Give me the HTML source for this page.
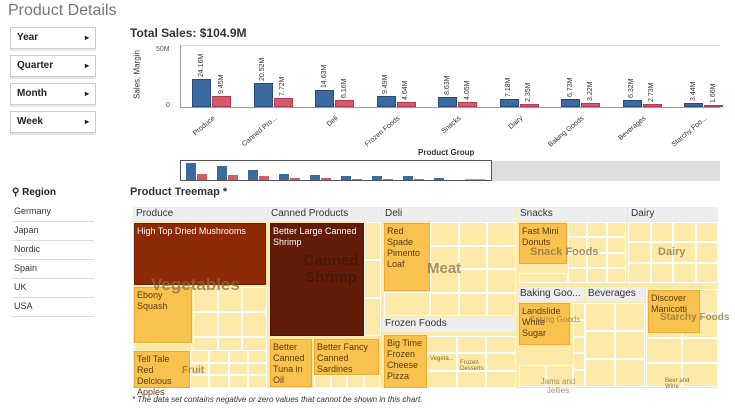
<!DOCTYPE html>
<html><head><style>
body{margin:0;width:735px;height:420px;background:#fff;position:relative;overflow:hidden;font-family:"Liberation Sans",sans-serif;}
.a{position:absolute;}
.f{position:absolute;left:10px;width:84px;height:20px;border:1px solid #ccc;box-shadow:0 2px 0 #e4e4e4;font-size:10px;font-weight:bold;color:#222;line-height:20px;text-indent:6px;}
.f:after{content:"▸";position:absolute;right:6px;font-size:8px;}
.r{position:absolute;left:12px;width:82px;font-size:9px;color:#333;border-bottom:1px solid #ddd;height:18px;line-height:16px;text-indent:2px;}
.h{position:absolute;background:#eee;font-size:10px;color:#333;height:14px;line-height:14px;text-indent:3px;overflow:hidden;white-space:nowrap;}
.c{position:absolute;background:#fde9a8;border:1px solid #fff;box-sizing:border-box;}
.o{position:absolute;background:#f9c24e;border:1px solid #f0a830;box-sizing:border-box;font-size:9px;color:#5a3a10;line-height:11px;padding:2px 2px;}
.t{position:absolute;font-weight:bold;color:#8a7040;opacity:.75;white-space:nowrap;}
.s{position:absolute;font-size:6px;color:#8a6a30;}
</style></head><body>
<div class="a" style="left:8px;top:2px;font-size:16px;color:#777;">Product Details</div>
<div class="f" style="top:27px">Year</div>
<div class="f" style="top:55px">Quarter</div>
<div class="f" style="top:83px">Month</div>
<div class="f" style="top:111px">Week</div>
<div class="a" style="left:12px;top:187px;font-size:10px;font-weight:bold;color:#222;">⚲ Region</div>
<div class="r" style="top:203px">Germany</div>
<div class="r" style="top:222px">Japan</div>
<div class="r" style="top:241px">Nordic</div>
<div class="r" style="top:260px">Spain</div>
<div class="r" style="top:279px">UK</div>
<div class="r" style="top:298px">USA</div>

<div class="a" style="left:130px;top:26px;font-size:12px;font-weight:bold;color:#333;">Total Sales: $104.9M</div>
<div class="a" style="left:180px;top:45px;width:540px;height:1px;background:#ddd"></div>
<div class="a" style="left:180px;top:45px;width:1px;height:63px;background:#999"></div>
<div class="a" style="left:180px;top:107px;width:540px;height:1px;background:#999"></div>
<div class="a" style="left:156px;top:46px;font-size:7px;color:#555">50M</div>
<div class="a" style="left:166px;top:102px;font-size:7px;color:#555">0</div>
<div class="a" style="left:107px;top:70px;font-size:8px;color:#333;transform:rotate(-90deg);width:60px;text-align:center;">Sales, Margin</div>
<div class="a" style="left:418px;top:148px;font-size:8px;color:#333;font-weight:bold;">Product Group</div>
<div id="bars"></div>
<div class="a" style="left:180px;top:160px;width:312px;height:21px;border:1px solid #555;box-sizing:border-box"></div>
<div class="a" style="left:492px;top:161px;width:228px;height:20px;background:#ddd"></div>

<div class="a" style="left:130px;top:186px;font-size:11px;font-weight:bold;color:#333;">Product Treemap *</div>
<div id="tm" class="a" style="left:133px;top:207px;width:585px;height:181px;background:#fde9a8"></div>
<div class="a" style="left:132px;top:395px;font-size:8px;font-style:italic;color:#333;">* The data set contains negative or zero values that cannot be shown in this chart.</div>
<script>
var g=["Produce","Canned Pro...","Deli","Frozen Foods","Snacks","Dairy","Baking Goods","Beverages","Starchy Foo..."];
var b=[24.16,20.52,14.63,9.49,8.63,7.18,6.73,6.32,3.44],r=[9.45,7.72,6.16,4.64,4.05,2.35,3.22,2.73,1.66];
var h="";
function bar(x,v,col,bc){var hh=v*58/50;h+='<div class="a" style="left:'+x+'px;top:'+(107-hh)+'px;width:19px;height:'+hh+'px;background:'+col+';border:1px solid '+bc+';box-sizing:border-box"></div>';
h+='<div class="a" style="left:'+(x+9.5-20)+'px;top:'+(107-hh-26)+'px;width:40px;font-size:7px;color:#333;transform:rotate(-90deg);text-align:left;line-height:8px">'+v.toFixed(2)+'M</div>';}
for(var i=0;i<9;i++){var x=192+i*61.5;
bar(x,b[i],"#3b6aa0","#244d80");bar(x+20,r[i],"#d3596c","#b53a50");
h+='<div class="a" style="left:'+(x-40)+'px;top:115px;width:60px;text-align:right;font-size:7px;color:#333;transform:rotate(-40deg);transform-origin:100% 0">'+g[i]+'</div>';
var mx=186+i*31;h+='<div class="a" style="left:'+mx+'px;top:'+(181-b[i]*0.75)+'px;width:10px;height:'+b[i]*0.75+'px;background:#3b6aa0"></div><div class="a" style="left:'+(mx+11)+'px;top:'+(181-r[i]*0.75)+'px;width:10px;height:'+r[i]*0.75+'px;background:#d3596c"></div>';}
for(var j=0;j<8;j++){var mx=186+(9+j)*31;h+='<div class="a" style="left:'+mx+'px;top:179px;width:20px;height:2px;background:#9ab"></div>';}
document.getElementById("bars").innerHTML=h;
var t="";
function C(x,y,w,hh,cls,txt,st){t+='<div class="'+cls+'" style="left:'+(x-133)+'px;top:'+(y-207)+'px;width:'+w+'px;height:'+hh+'px;'+(st||'')+'">'+(txt||'')+'</div>';}
function grid(x,y,w,hh,n,m){for(var a=0;a<n;a++)for(var k=0;k<m;k++)C(x+a*w/n,y+k*hh/m,w/n,hh/m,"c");}
grid(193,287,74,100,3,4);grid(134,343,58,44,1,1);grid(190,350,77,38,4,3);
grid(364,222,17,114,1,3);grid(314,375,66,13,4,1);
grid(430,222,86,94,3,4);grid(384,292,46,24,1,1);
grid(568,222,58,61,3,4);grid(519,273,49,10,1,1);
grid(628,222,90,61,4,3);
grid(573,303,12,84,1,5);grid(519,365,54,22,2,1);
grid(585,303,60,84,2,3);grid(646,289,72,98,2,4);grid(427,336,89,52,3,3);
C(133,207,134,14,"h","Produce");C(268,207,113,14,"h","Canned Products");C(382,207,134,14,"h","Deli");
C(517,207,110,14,"h","Snacks");C(628,207,90,14,"h","Dairy");
C(382,317,134,15,"h","Frozen Foods");C(517,287,67,15,"h","Baking Goo...");C(585,287,60,15,"h","Beverages");
C(134,223,132,62,"o","High Top Dried Mushrooms","background:#8b2a05;border-color:#6d1f03;color:#fff");
C(134,287,58,56,"o","Ebony<br>Squash");C(134,351,56,37,"o","Tell Tale Red<br>Delcious<br>Apples");
C(270,223,94,113,"o","Better Large Canned<br>Shrimp","background:#611d08;border-color:#4d1505;color:#fff");
C(270,339,42,48,"o","Better<br>Canned<br>Tuna in<br>Oil");C(314,339,65,36,"o","Better Fancy<br>Canned<br>Sardines");
C(384,223,46,68,"o","Red<br>Spade<br>Pimento<br>Loaf");C(384,335,43,53,"o","Big Time<br>Frozen<br>Cheese<br>Pizza");
C(519,223,48,41,"o","Fast Mini<br>Donuts");C(519,303,51,42,"o","Landslide<br>White<br>Sugar");
C(648,290,52,43,"o","Discover<br>Manicotti");
C(660,312,60,10,"t","Starchy Foods","font-size:10px");
C(151,275,120,20,"t","Vegetables","font-size:17px");C(296,252,70,40,"t","Canned<br>Shrimp","font-size:15px;text-align:center;line-height:17px;color:#3a1005;opacity:.6");
C(427,260,50,20,"t","Meat","font-size:15px");C(530,246,80,12,"t","Snack Foods","font-size:11px");
C(658,246,40,12,"t","Dairy","font-size:11px");C(182,365,30,12,"t","Fruit","font-size:10px");
C(530,315,60,12,"t","Baking Goods","font-size:8px;font-weight:normal");C(533,377,50,25,"t","Jams and<br>Jellies","font-size:8px;font-weight:normal;text-align:center");
C(460,360,40,20,"s","Frozen<br>Desserts");C(430,356,40,10,"s","Vegeta...");C(665,378,35,20,"s","Beer and<br>Wine");
document.getElementById("tm").innerHTML=t;
</script>
</body></html>
